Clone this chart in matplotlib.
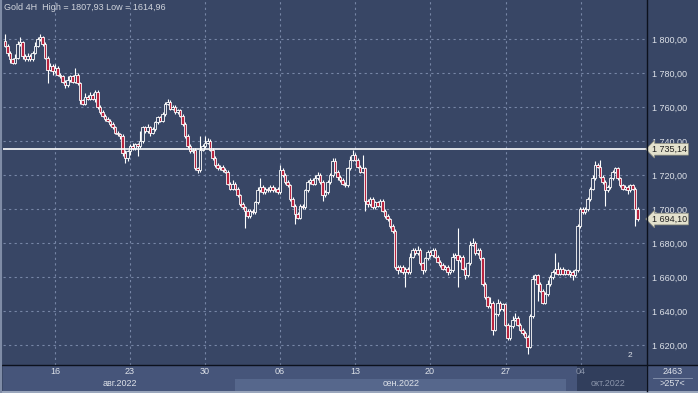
import matplotlib
matplotlib.use('Agg')
import matplotlib.pyplot as plt
import matplotlib.transforms as mtransforms
from matplotlib.lines import Line2D
from matplotlib.patches import Rectangle

plt.rcParams['font.family'] = ['Liberation Sans', 'DejaVu Sans']

# 4H closes (open = previous close)
first_open = 1799.0
closes = [
    1796, 1792, 1788, 1786, 1789, 1797, 1798, 1790, 1788, 1790,
    1788, 1792, 1796, 1800, 1801, 1797, 1789, 1782, 1784, 1781,
    1783, 1779, 1778, 1775, 1773, 1776, 1778, 1775, 1779, 1774,
    1764, 1762, 1766, 1765, 1767, 1765, 1769, 1760, 1757, 1755,
    1753, 1752, 1750, 1748, 1745, 1744, 1743, 1733, 1730, 1734,
    1737, 1736, 1738, 1737, 1740, 1748, 1746, 1748, 1745, 1747,
    1751, 1754, 1752, 1756, 1762, 1763, 1759, 1760, 1757, 1758,
    1755, 1750, 1743, 1737, 1734, 1735, 1724, 1723, 1735, 1737,
    1739, 1740, 1735, 1730, 1726, 1724, 1725, 1723, 1722, 1715,
    1712, 1715, 1712, 1708, 1703, 1701, 1699, 1696, 1699, 1698,
    1704, 1711, 1713, 1710, 1712, 1711, 1713, 1711, 1712, 1710,
    1723, 1720, 1716, 1714, 1706, 1702, 1697, 1695, 1702, 1701,
    1711, 1716, 1717, 1715, 1718, 1720, 1716, 1708, 1710, 1716,
    1720, 1728, 1722, 1719, 1717, 1715, 1714, 1724, 1729, 1732,
    1729, 1725, 1722, 1724, 1705, 1703, 1706, 1701, 1704, 1702,
    1705, 1699, 1696, 1694, 1690, 1687, 1666, 1664, 1666, 1663,
    1665, 1663, 1672, 1676, 1674, 1676, 1668, 1664, 1671, 1675,
    1673, 1676, 1672, 1669, 1667, 1665, 1666, 1663, 1664, 1672,
    1673, 1670, 1672, 1665, 1661, 1668, 1679, 1680, 1674, 1676,
    1671, 1656, 1648, 1643, 1645, 1629, 1638, 1645, 1641, 1644,
    1632, 1624, 1631, 1635, 1636, 1632, 1629, 1627, 1625, 1619,
    1637, 1659, 1661, 1656, 1652, 1645, 1650, 1656, 1660, 1663,
    1665, 1662, 1665, 1662, 1664, 1662, 1663, 1661, 1664, 1690,
    1700, 1698, 1700, 1706, 1712, 1718, 1726, 1725, 1719, 1716,
    1711, 1713, 1718, 1722, 1724, 1718, 1714, 1712, 1713, 1711,
    1714, 1712, 1700, 1694.1,
]
up_wick = [
    4, 1, 1, 1, 2, 2, 3, 1, 1, 2,
    1, 1, 2, 1, 2, 1, 1, 1, 2, 1,
    2, 1, 1, 1, 1, 2, 1, 1, 4, 1,
    1, 1, 2, 1, 2, 1, 1, 1, 1, 1,
    1, 1, 1, 1, 1, 1, 1, 1, 2, 1,
    1, 2, 1, 1, 6, 1, 1, 2, 1, 1,
    1, 1, 1, 1, 1, 2, 1, 1, 1, 1,
    1, 1, 1, 1, 1, 1, 1, 1, 8, 1,
    4, 2, 1, 1, 1, 1, 1, 1, 1, 1,
    1, 2, 1, 1, 1, 1, 1, 1, 1, 1,
    1, 2, 5, 1, 1, 1, 1, 1, 1, 1,
    3, 1, 1, 1, 1, 1, 1, 1, 1, 1,
    1, 1, 1, 1, 2, 2, 1, 1, 1, 1,
    1, 2, 2, 1, 1, 1, 1, 1, 2, 3,
    1, 1, 1, 8, 1, 1, 1, 1, 1, 1,
    1, 1, 1, 1, 1, 1, 1, 1, 1, 1,
    1, 1, 2, 1, 1, 2, 1, 1, 1, 1,
    1, 1, 1, 1, 1, 1, 1, 1, 1, 2,
    1, 16, 1, 1, 1, 1, 2, 3, 1, 1,
    1, 1, 1, 1, 3, 1, 1, 2, 1, 1,
    1, 1, 1, 2, 3, 1, 1, 1, 1, 1,
    1, 2, 1, 1, 1, 1, 1, 2, 1, 1,
    9, 4, 1, 1, 1, 1, 1, 1, 1, 1,
    1, 1, 1, 1, 1, 2, 2, 1, 4, 1,
    1, 1, 1, 1, 1, 1, 1, 1, 1, 1,
    1, 1, 1, 1,
]
down_wick = [
    1, 2, 2, 1, 1, 1, 1, 2, 1, 1,
    1, 1, 1, 1, 1, 1, 1, 8, 1, 2,
    1, 1, 1, 1, 2, 1, 1, 1, 1, 1,
    2, 1, 1, 1, 1, 1, 2, 1, 1, 1,
    1, 1, 1, 1, 1, 1, 2, 2, 3, 2,
    2, 1, 1, 6, 1, 1, 1, 1, 2, 1,
    1, 1, 1, 1, 1, 1, 1, 1, 1, 1,
    1, 1, 1, 1, 1, 1, 1, 2, 1, 1,
    1, 1, 1, 1, 1, 1, 1, 1, 1, 1,
    1, 1, 1, 1, 1, 1, 10, 1, 1, 1,
    1, 1, 1, 1, 1, 1, 1, 1, 1, 1,
    1, 1, 1, 1, 1, 1, 6, 1, 1, 1,
    1, 1, 1, 1, 1, 1, 1, 3, 1, 1,
    1, 1, 1, 2, 1, 1, 1, 1, 1, 1,
    1, 1, 1, 1, 6, 2, 1, 1, 1, 1,
    1, 1, 1, 1, 1, 1, 1, 2, 1, 1,
    9, 1, 1, 1, 1, 1, 1, 2, 1, 1,
    1, 1, 1, 1, 1, 1, 1, 2, 1, 1,
    1, 16, 1, 1, 2, 1, 1, 1, 1, 1,
    1, 1, 1, 1, 1, 3, 1, 1, 1, 1,
    1, 1, 1, 1, 1, 1, 1, 1, 1, 4,
    1, 1, 1, 10, 1, 1, 1, 1, 1, 1,
    1, 1, 1, 1, 1, 1, 2, 3, 1, 1,
    1, 1, 1, 1, 1, 1, 1, 1, 1, 1,
    9, 1, 1, 1, 1, 1, 1, 1, 1, 2,
    1, 1, 10, 1,
]

date_ticks = [20, 50, 80, 110, 140, 170, 200.4, 230.4]
date_labels = ['16', '23', '30', '06', '13', '20', '27', '04']
month_pos = [46, 158.4, 241.2]
month_labels = ['авг.2022', 'сен.2022', 'окт.2022']
price_ticks = [1620, 1640, 1660, 1680, 1700, 1720, 1740, 1760, 1780, 1800]
level_line = 1735.14
last_price = 1694.10
title = 'Gold 4H  High = 1807,93 Low = 1614,96'

BG = '#384665'
STRIP = '#46557a'
GRID = '#7786a6'
TXT = '#dde1e8'

opens = [first_open] + closes[:-1]
idx = list(range(len(closes)))
highs = [max(o, c) + u for o, c, u in zip(opens, closes, up_wick)]
lows = [min(o, c) - d for o, c, d in zip(opens, closes, down_wick)]
bottoms = [min(o, c) for o, c in zip(opens, closes)]
heights = [max(abs(c - o), 0.5) for o, c in zip(opens, closes)]
fills = [BG if c >= o else '#b8243f' for o, c in zip(opens, closes)]

W, H = 698, 393
fig = plt.figure(figsize=(6.98, 3.93), dpi=100, facecolor=BG)


def box(x0, y0, x1, y1):
    return [x0 / W, 1 - y1 / H, (x1 - x0) / W, (y1 - y0) / H]


def plain(a, color):
    a.set_facecolor(color)
    a.set_xticks([])
    a.set_yticks([])
    for s in a.spines.values():
        s.set_visible(False)


xlim = (-0.8, 256.4)

ax = fig.add_axes(box(3, 0, 646, 365), facecolor=BG)
ax.set_xlim(*xlim)
ax.set_ylim(1608.24, 1822.94)
for s in ax.spines.values():
    s.set_visible(False)

for p in price_ticks:
    ax.axhline(p, color=GRID, lw=0.8, ls=(0, (2, 3)), zorder=1)
for t in date_ticks:
    ax.axvline(t, color=GRID, lw=0.8, ls=(0, (2, 3)), zorder=1)

ax.vlines(idx, lows, highs, color='white', lw=0.8, zorder=2)
ax.bar(idx, heights, bottom=bottoms, width=0.9, color=fills,
       edgecolor='white', linewidth=0.6, zorder=3)

ax.axhline(level_line, color='white', lw=1.2, zorder=4)

ax.set_xticks([])
ax.yaxis.tick_right()
ax.set_yticks(price_ticks)
ax.set_yticklabels([f'{p:,.2f}'.replace(',', ' ').replace('.', ',') for p in price_ticks])
ax.tick_params(axis='y', length=0, pad=4, labelsize=6.5, labelcolor=TXT)

tr = mtransforms.blended_transform_factory(ax.transAxes, ax.transData)
for val in [level_line, last_price]:
    ax.text((652 - 3) / 643, val, f'{val:,.2f}'.replace(',', ' ').replace('.', ','),
            transform=tr, ha='left', va='center', fontsize=6.5, color='#202020',
            clip_on=False, zorder=6,
            bbox=dict(boxstyle='larrow,pad=0.15', fc='#e3e1cd', ec='#8f8f80', lw=0.5))

ax.text(250, 1611.5, '2', color=TXT, fontsize=6, ha='center', va='bottom')

fig.text(4 / W, 1 - 8 / H, title, color='#d0d4dc', fontsize=6.5, ha='left', va='center')

# time scale strip
sax = fig.add_axes(box(3, 365, 646, 391))
plain(sax, STRIP)
sax.set_xlim(*xlim)
sax.set_ylim(26, 0)
sax.add_patch(Rectangle((92, 14), 132.4, 12, fc='#56678c', ec='none', zorder=1))
sax.add_patch(Rectangle((228.8, 0), 30, 26, fc='#313e5c', ec='none', zorder=1))
for t, lbl in zip(date_ticks, date_labels):
    sax.text(t, 6, lbl, ha='center', va='center', fontsize=6.5,
             color='#8a94aa' if lbl == '04' else TXT, zorder=3)
for m, lbl in zip(month_pos, month_labels):
    sax.text(m, 18, lbl, ha='center', va='center', fontsize=6.5,
             color='#8a94aa' if lbl.startswith('окт') else TXT, zorder=3)

# bar counter corner
cax = fig.add_axes(box(647, 365, 698, 391))
plain(cax, STRIP)
cax.set_xlim(0, 1)
cax.set_ylim(0, 1)
cax.text(0.5, 0.74, '2463', ha='center', va='center', fontsize=6.5, color=TXT)
cax.text(0.5, 0.27, '>257<', ha='center', va='center', fontsize=6.5, color=TXT)
cax.plot([0.12, 0.88], [0.5, 0.5], color='#8a96b0', lw=0.6)

fig.add_artist(Line2D([646.5 / W, 646.5 / W], [1 - 391 / H, 1], color='#0c111d', lw=1))
fig.add_artist(Line2D([0, 1], [1 - 365 / H, 1 - 365 / H], color='#0c111d', lw=1))
fig.add_artist(Line2D([1 / W, 1 / W], [0, 1], color='#7f8ca6', lw=1.5))
fig.add_artist(Rectangle((0, 0), 1, 2 / H, transform=fig.transFigure, fc='#9aa6bc', ec='none'))

fig.savefig('out.png', dpi=100, facecolor=BG)
